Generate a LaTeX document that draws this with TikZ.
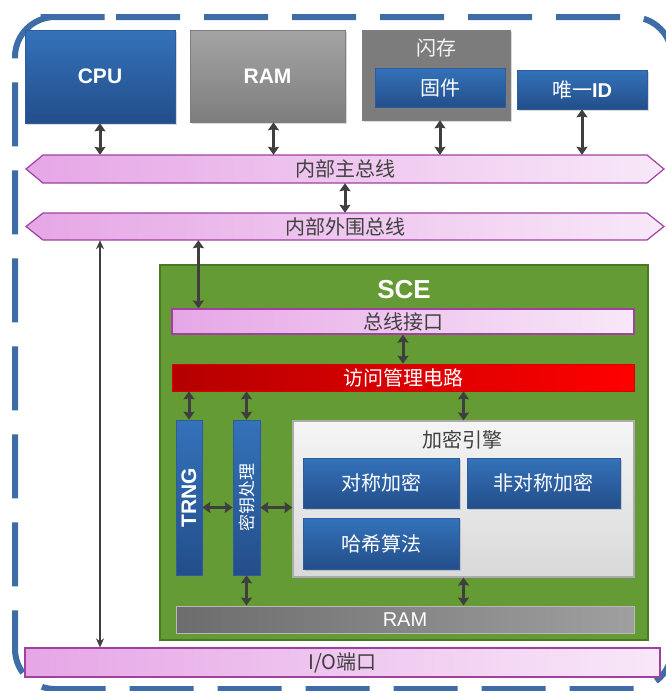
\documentclass[tikz,border=0pt]{standalone}
\usepackage{fontspec}
\setmainfont{Liberation Sans}
\newfontfamily\cjk{Noto Sans CJK SC}
\usepackage{graphicx}
\usetikzlibrary{arrows.meta,shadows}
\definecolor{frameblue}{HTML}{3D6CA6}
\definecolor{bluetop}{HTML}{3472BA}
\definecolor{bluebot}{HTML}{234E8A}
\definecolor{boxedge}{HTML}{2C5C9A}
\definecolor{graytop}{HTML}{A4A4A4}
\definecolor{graybot}{HTML}{7E7E7E}
\definecolor{busleft}{HTML}{E6A6E6}
\definecolor{busright}{HTML}{F8E8F8}
\definecolor{busedge}{HTML}{A040A0}
\definecolor{redleft}{HTML}{B40000}
\definecolor{redright}{HTML}{FF0000}
\definecolor{scegreen}{HTML}{649B34}
\definecolor{sceedge}{HTML}{497A22}
\definecolor{engtop}{HTML}{F5F5F5}
\definecolor{engbot}{HTML}{D9D9D9}
\definecolor{arrowgray}{HTML}{3F3F3F}
\definecolor{darktext}{HTML}{404040}
\tikzset{
  boxshadow/.style={drop shadow={opacity=0.3,shadow xshift=1.5pt,shadow yshift=-1.5pt}},
  bluebox/.style={draw=boxedge,line width=0.6pt,top color=bluetop,bottom color=bluebot,text=white,inner sep=0pt,boxshadow},
  graybox/.style={draw=graybot,line width=0.6pt,top color=graytop,bottom color=graybot,text=white,inner sep=0pt,boxshadow},
  flashbox/.style={draw=graybot,line width=0.6pt,fill=gray!97!black,inner sep=0pt,boxshadow},
  barbox/.style={draw=busedge,line width=1.2pt,left color=busleft,right color=busright,text=darktext,inner sep=0pt},
  bustext/.style={inner sep=0pt,text=darktext},
  busfill/.style={draw=busedge,line width=1.2pt,left color=busleft,right color=busright},
  redbox/.style={draw=red!85!black,line width=0.6pt,left color=redleft,right color=redright,text=white,inner sep=0pt},
  scebox/.style={draw=sceedge,line width=2pt,fill=scegreen,inner sep=0pt},
  engbox/.style={draw=gray!65,line width=1.2pt,top color=engtop,bottom color=engbot,inner sep=0pt,boxshadow},
  rambar/.style={draw=gray!55,line width=1pt,left color=gray!85!black,right color=gray!75,text=white,inner sep=0pt},
  dar/.style={{Stealth[length=8pt,width=11pt,inset=1pt]}-{Stealth[length=8pt,width=11pt,inset=1pt]},line width=3pt,draw=arrowgray},
  longar/.style={{Stealth[length=9pt,width=8pt]}-{Stealth[length=9pt,width=8pt]},line width=1.6pt,draw=arrowgray},
  frame/.style={draw=frameblue,line width=6pt,dash pattern=on 64pt off 24pt,rounded corners=40pt},
  zh/.style={font=\cjk\fontsize{20}{24}\selectfont},
  lat/.style={font=\bfseries\fontsize{21}{25}\selectfont},
}
\begin{document}
\begin{tikzpicture}[x=1pt,y=-1pt]
\useasboundingbox (0,0) rectangle (666,691);
\draw[frame] (76,17) -- (672,17) -- (672,689) -- (15,689) -- (15,17) -- cycle;
% top row
\node[bluebox,lat,minimum width=150pt,minimum height=93pt] (cpu) at (100,76.5) {CPU};
\node[graybox,lat,minimum width=155pt,minimum height=92pt] (ram) at (267.5,76) {RAM};
\node[flashbox,minimum width=148pt,minimum height=90pt] (flash) at (436,75) {};
\node[zh,text=white!92!gray] (flashlbl) at (436,48) {闪存};
\node[bluebox,zh,minimum width=130pt,minimum height=39pt] (fw) at (440,87.5) {固件};
\node[bluebox,zh,minimum width=130pt,minimum height=39pt] (uid) at (582,89.5) {唯一{\rmfamily\bfseries ID}};
% buses
\path[busfill] (26,169) -- (43,155) -- (647,155) -- (664,169) -- (647,183) -- (43,183) -- cycle;
\node[bustext,zh,minimum width=604pt,minimum height=28pt] (mbus) at (345,169) {内部主总线};
\path[busfill] (26,226.5) -- (43,213) -- (647,213) -- (664,226.5) -- (647,240) -- (43,240) -- cycle;
\node[bustext,zh,minimum width=604pt,minimum height=27pt] (pbus) at (345,226.5) {内部外围总线};
\coordinate (ramout) at ([xshift=6pt]ram.south);
\draw[dar] (cpu.south) -- (cpu.south |- mbus.north);
\draw[dar] (ramout) -- (ramout |- mbus.north);
\draw[dar] (flash.south -| fw) -- (fw |- mbus.north);
\draw[dar] (uid.south) -- (uid.south |- mbus.north);
\draw[dar] (mbus.south) -- (pbus.north);
% SCE
\node[scebox,minimum width=488pt,minimum height=375pt] (sce) at (404,452.5) {};
\node[text=white,font=\bfseries\fontsize{26}{30}\selectfont] (scelbl) at (404,290) {SCE};
\node[barbox,zh,minimum width=462pt,minimum height=25pt] (bif) at (403,321.5) {总线接口};
\node[redbox,zh,minimum width=462pt,minimum height=27pt] (acc) at (403,377.5) {访问管理电路};
\node[bluebox,lat,minimum width=26pt,minimum height=155pt] (trng) at (189,497.5) {\rotatebox{90}{TRNG}};
\node[bluebox,zh,font=\cjk\fontsize{17}{20}\selectfont,minimum width=27pt,minimum height=155pt] (key) at (246.5,497.5) {\rotatebox{90}{密钥处理}};
\node[engbox,minimum width=341pt,minimum height=156pt] (eng) at (463.5,499) {};
\node[zh,text=darktext] (englbl) at (462,440) {加密引擎};
\node[bluebox,zh,minimum width=156pt,minimum height=50pt] (sym) at (381,483) {对称加密};
\node[bluebox,zh,minimum width=153pt,minimum height=50pt] (asym) at (543.5,483) {非对称加密};
\node[bluebox,zh,minimum width=156pt,minimum height=51pt] (hash) at (381,543.5) {哈希算法};
\node[rambar,font=\fontsize{20}{24}\selectfont,minimum width=458pt,minimum height=27pt] (sram) at (405,619.5) {RAM};
\coordinate (bifin) at ([xshift=27pt]bif.north west);
\coordinate (keyr) at ([yshift=-10pt]key.east);
\draw[dar] (bifin |- pbus.south) -- (bifin);
\draw[dar] (bif.south) -- (acc.north);
\draw[dar] (acc.south -| trng) -- (trng.north);
\draw[dar] (acc.south -| key) -- (key.north);
\draw[dar] (acc.south -| eng) -- (eng.north);
\draw[dar] ([yshift=-10pt]trng.east) -- ([yshift=-10pt]key.west);
\draw[dar] (keyr) -- (keyr -| eng.west);
\draw[dar] (key.south) -- (key.south |- sram.north);
\draw[dar] (eng.south) -- (eng.south |- sram.north);
% I/O
\node[barbox,zh,minimum width=635pt,minimum height=29pt] (io) at (342.5,662.5) {I/O端口};
\draw[longar] (pbus.south -| cpu) -- (io.north -| cpu);
\end{tikzpicture}
\end{document}
